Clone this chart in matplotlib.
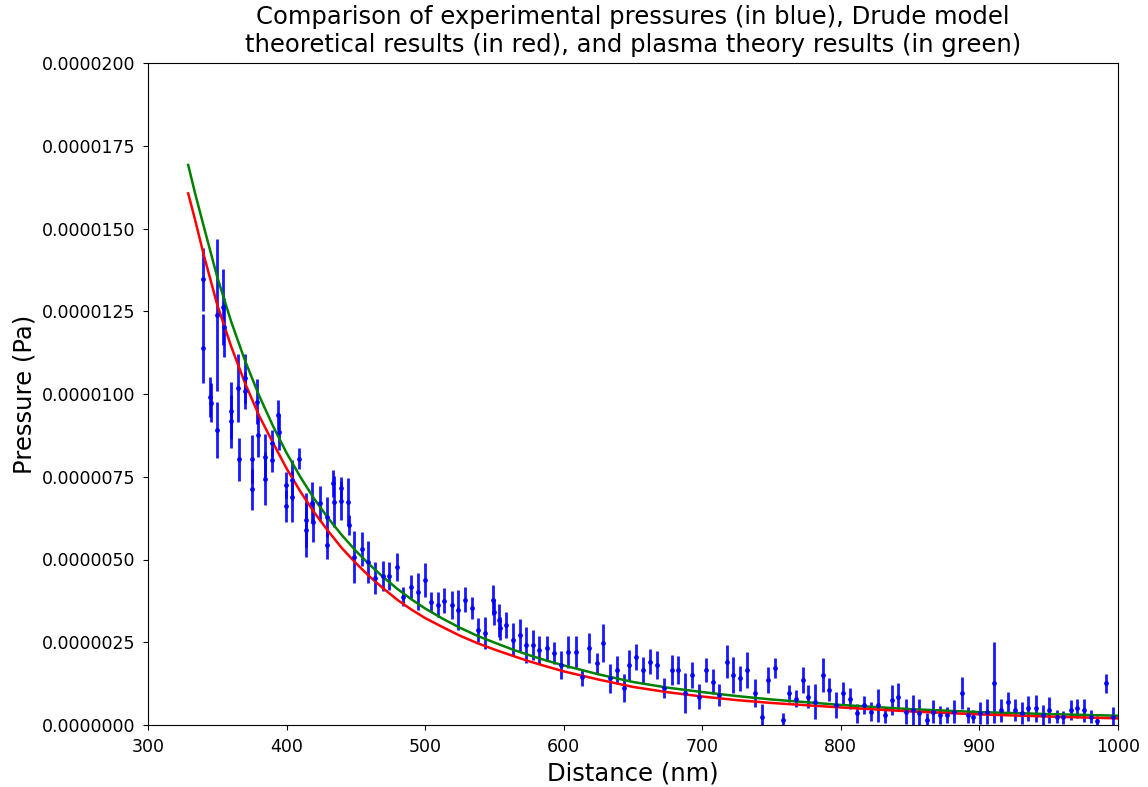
import matplotlib
matplotlib.use("Agg")
import matplotlib.pyplot as plt
import numpy as np
from matplotlib.ticker import FuncFormatter, MultipleLocator

# Experimental data: distance (nm), pressure (1e-6 Pa), error (1e-6 Pa)
dist_exp = [339.9, 339.9, 345.0, 345.5, 350.0, 350.0, 354.4, 354.6, 359.7, 359.9,
            365.2, 365.4, 370.0, 370.2, 374.8, 375.0, 378.9, 379.1, 384.4, 384.6,
            389.3, 389.5, 394.0, 394.2, 399.4, 399.6, 403.7, 403.9, 409.0, 413.8,
            414.0, 418.6, 418.8, 424.1, 429.0, 429.2, 433.7, 433.9, 439.3, 439.5,
            444.5, 444.7, 448.7, 454.2, 459.0, 463.8, 469.4, 474.1, 479.9, 484.2,
            489.6, 495.0, 499.9, 504.2, 509.0, 513.8, 519.1, 523.5, 528.8, 533.6,
            538.4, 543.2, 549.2, 549.4, 553.5, 553.7, 558.4, 563.2, 568.5, 572.8,
            577.6, 582.4, 588.2, 593.0, 597.8, 603.3, 608.6, 613.4, 618.3, 623.8,
            628.6, 633.4, 638.2, 643.7, 647.1, 651.9, 657.4, 662.3, 667.5, 672.4,
            677.9, 682.7, 687.5, 692.4, 697.8, 702.7, 707.5, 712.3, 717.6, 722.4,
            727.2, 732.5, 738.0, 742.9, 747.6, 752.5, 758.0, 762.8, 767.6, 772.4,
            776.5, 781.3, 786.8, 791.7, 796.5, 801.8, 806.6, 811.9, 816.7, 821.5,
            827.0, 831.9, 836.7, 841.5, 847.0, 851.9, 856.6, 862.0, 866.7, 871.5,
            876.4, 881.6, 887.2, 891.9, 895.5, 900.4, 905.7, 910.5, 915.3, 920.8,
            925.6, 930.5, 935.3, 940.8, 945.6, 950.4, 955.8, 960.5, 965.9, 970.7,
            975.5, 980.3, 984.6, 991.3, 996.2]
press_exp = [13.47, 11.38, 9.92, 9.74, 12.39, 8.91, 12.62, 12.01, 9.50, 9.17,
             10.17, 8.03, 10.47, 10.10, 8.03, 7.12, 9.77, 8.76, 8.10, 7.44,
             8.51, 8.01, 9.37, 8.86, 7.25, 6.62, 7.40, 6.90, 8.05, 6.19,
             5.89, 6.72, 6.14, 6.70, 6.29, 5.44, 7.30, 6.75, 7.15, 6.78,
             6.75, 6.04, 5.08, 5.31, 4.93, 4.43, 4.50, 4.50, 4.78, 3.88,
             4.18, 4.03, 4.38, 3.72, 3.63, 3.76, 3.63, 3.47, 3.78, 3.53,
             2.87, 2.77, 3.78, 3.42, 3.17, 2.92, 3.02, 2.57, 2.72, 2.42,
             2.42, 2.27, 2.32, 2.17, 1.81, 2.21, 2.21, 1.44, 2.32, 1.86,
             2.47, 1.41, 1.66, 1.11, 1.81, 2.06, 1.66, 1.91, 1.81, 1.11,
             1.66, 1.66, 0.96, 1.51, 0.86, 1.66, 1.31, 0.91, 1.91, 1.51,
             1.41, 1.66, 0.96, 0.25, 1.36, 1.71, 0.15, 0.96, 0.80, 1.36,
             0.86, 0.70, 1.51, 1.06, 0.60, 0.96, 0.80, 0.35, 0.60, 0.40,
             0.60, 0.30, 0.76, 0.86, 0.40, 0.45, 0.35, 0.15, 0.40, 0.30,
             0.30, 0.40, 0.96, 0.30, 0.25, 0.35, 0.40, 1.28, 0.45, 0.70,
             0.45, 0.35, 0.50, 0.50, 0.30, 0.45, 0.25, 0.23, 0.45, 0.50,
             0.45, 0.25, 0.13, 1.26, 0.25]
err_exp = [0.95, 1.05, 0.60, 0.60, 2.30, 0.85, 1.15, 0.90, 0.85, 0.80,
           1.03, 0.65, 0.75, 0.56, 0.73, 0.62, 0.67, 0.65, 0.70, 0.80,
           0.40, 0.36, 0.45, 0.55, 0.40, 0.48, 0.60, 0.76, 0.33, 0.81,
           0.81, 0.63, 0.60, 0.53, 0.61, 0.41, 0.40, 0.76, 0.35, 0.59,
           0.70, 0.30, 0.78, 0.52, 0.63, 0.48, 0.45, 0.43, 0.43, 0.28,
           0.36, 0.55, 0.52, 0.30, 0.38, 0.38, 0.43, 0.60, 0.38, 0.33,
           0.35, 0.48, 0.45, 0.40, 0.50, 0.35, 0.40, 0.50, 0.48, 0.55,
           0.45, 0.43, 0.38, 0.33, 0.43, 0.48, 0.48, 0.25, 0.45, 0.33,
           0.58, 0.43, 0.43, 0.43, 0.45, 0.40, 0.38, 0.38, 0.43, 0.30,
           0.45, 0.43, 0.60, 0.38, 0.38, 0.35, 0.38, 0.33, 0.50, 0.55,
           0.38, 0.55, 0.43, 0.38, 0.38, 0.30, 0.20, 0.26, 0.25, 0.38,
           0.35, 0.53, 0.50, 0.35, 0.40, 0.35, 0.33, 0.28, 0.28, 0.28,
           0.50, 0.25, 0.45, 0.40, 0.38, 0.45, 0.43, 0.20, 0.35, 0.28,
           0.25, 0.35, 0.48, 0.25, 0.20, 0.33, 0.38, 1.23, 0.35, 0.30,
           0.33, 0.33, 0.38, 0.40, 0.30, 0.40, 0.20, 0.20, 0.30, 0.30,
           0.35, 0.20, 0.13, 0.28, 0.28]

# Theory curves: distance (nm), pressure (1e-6 Pa)
dist_theory = [329, 334, 340, 350, 360, 370, 380, 390, 400, 410, 420, 430, 440,
               450, 460, 470, 480, 490, 500, 512.5, 525, 537.5, 550, 562.5, 575,
               587.5, 600, 625, 650, 675, 700, 725, 750, 800, 850, 900, 950, 1000]
press_drude = [16.06, 15.26, 14.24, 12.69, 11.44, 10.33, 9.36, 8.54, 7.75, 7.05,
               6.42, 5.86, 5.34, 4.89, 4.48, 4.12, 3.78, 3.49, 3.23, 2.96,
               2.70, 2.476, 2.28, 2.10, 1.925, 1.77, 1.62, 1.375, 1.15, 0.99,
               0.86, 0.752, 0.665, 0.53, 0.41, 0.32, 0.255, 0.20]
press_plasma = [16.92, 16.06, 15.10, 13.53, 12.19, 11.01, 9.97, 9.05, 8.22, 7.49,
                6.83, 6.25, 5.73, 5.26, 4.84, 4.46, 4.11, 3.80, 3.52, 3.216,
                2.94, 2.697, 2.49, 2.29, 2.11, 1.948, 1.80, 1.532, 1.30, 1.128,
                0.995, 0.874, 0.771, 0.606, 0.48, 0.39, 0.33, 0.28]

scale = 1e-6

fig = plt.figure(figsize=(11.48, 7.87), dpi=100)
ax = fig.add_axes([148/1148, 1 - 725/787, (1118-148)/1148, (725-63)/787])

ax.errorbar(dist_exp, np.array(press_exp) * scale, yerr=np.array(err_exp) * scale,
            fmt='.', color='blue', ecolor='blue', elinewidth=2, markersize=5,
            capsize=0, alpha=0.9)
ax.plot(dist_theory, np.array(press_plasma) * scale, color='green', linewidth=1.8)
ax.plot(dist_theory, np.array(press_drude) * scale, color='red', linewidth=1.8)

ax.set_xlim(300, 1000)
ax.set_ylim(0, 2e-5)
ax.xaxis.set_major_locator(MultipleLocator(100))
ax.yaxis.set_major_locator(MultipleLocator(2.5e-6))
ax.yaxis.set_major_formatter(FuncFormatter(lambda v, p: f"{v:.7f}"))
ax.tick_params(labelsize=12.5, pad=5.5)

ax.set_xlabel("Distance (nm)", fontsize=17.5)
ax.set_ylabel("Pressure (Pa)", fontsize=17.5)
ax.set_title("Comparison of experimental pressures (in blue), Drude model\n"
             "theoretical results (in red), and plasma theory results (in green)",
             fontsize=17.5, pad=8)

fig.savefig("out.png", dpi=100)
